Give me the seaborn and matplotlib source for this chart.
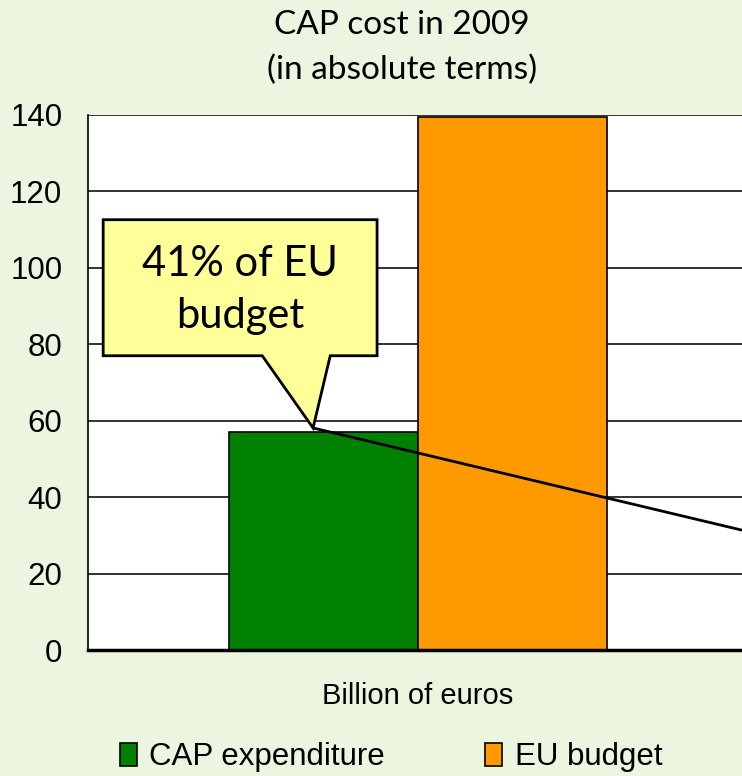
import pandas as pd
import matplotlib.pyplot as plt
import matplotlib.patches as mpatches
import seaborn as sns

# data
category = ["Billion of euros"]
series = ["CAP expenditure", "EU budget"]
values = [57, 139.5]
colors = ["#008000", "#FF9900"]
y_ticks = [0, 20, 40, 60, 80, 100, 120, 140]

df = pd.DataFrame({"cat": category * len(series), "series": series, "value": values})

sns.set_style("white")
plt.rcParams['font.family'] = ['Liberation Sans', 'DejaVu Sans']
plt.rcParams['text.color'] = 'black'
plt.rcParams['xtick.color'] = 'black'
plt.rcParams['ytick.color'] = 'black'

fig = plt.figure(figsize=(7.42, 7.76), dpi=100)
fig.patch.set_facecolor("#EBF5E0")
ax = fig.add_axes([88 / 742, 126 / 776, 660 / 742, 535 / 776])
ax.set_facecolor("white")

sns.barplot(data=df, x="cat", y="value", hue="series", palette=colors, saturation=1,
            width=0.573, gap=0, edgecolor="black", linewidth=1.2, ax=ax, legend=False)

ax.set_ylim(0, 140)
ax.set_xlim(-0.5, 0.5)
ax.set_yticks(y_ticks)
ax.yaxis.grid(True, color="#222222", linewidth=1.3)
ax.set_axisbelow(True)
ax.tick_params(axis="y", length=0, labelsize=22.5, pad=18.5)
ax.tick_params(axis="x", length=0, labelsize=21, pad=23)
ax.set_xticks([-0.5], minor=True)
ax.tick_params(axis="x", which="minor", length=9, width=1.2, direction="out")
ax.set_xlabel("")
ax.set_ylabel("")
for s in ["top", "right"]:
    ax.spines[s].set_visible(False)
ax.spines["left"].set_color("black")
ax.spines["left"].set_linewidth(1.2)
ax.spines["bottom"].set_color("black")
ax.spines["bottom"].set_linewidth(2.5)

# callout pointer line
tip = (-0.159, 58.1)
ax.plot([tip[0], 0.49], [tip[1], 31.4], color="black", linewidth=2, zorder=5, clip_on=False)

# callout box with pointer
x0, x1, yb, yt = -0.477, -0.062, 77.0, 112.6
poly = [(x0, yt), (x1, yt), (x1, yb), (-0.133, yb), tip, (-0.236, yb), (x0, yb)]
ax.add_patch(mpatches.Polygon(poly, closed=True, facecolor="#FFFF99",
                              edgecolor="black", linewidth=2, zorder=6))
ax.text((x0 + x1) / 2, (yb + yt) / 2 - 0.6, "41% of EU\nbudget", ha="center", va="center",
        fontsize=30, family=["Lato", "DejaVu Sans"], linespacing=1.45, zorder=7)

fig.text(402 / 742, 1 - 48 / 776, "CAP cost in 2009\n(in absolute terms)", ha="center",
         va="center", fontsize=24, family=["Lato", "DejaVu Sans"], linespacing=1.6)

handles = [mpatches.Patch(facecolor=c, edgecolor="black", linewidth=1.2, label=s)
           for s, c in zip(series, colors)]
fig.legend(handles=handles, loc="center", bbox_to_anchor=(391 / 742, 1 - 757 / 776),
           ncol=2, frameon=False, fontsize=22.5, handlelength=0.55, handleheight=0.75,
           handletextpad=0.4, columnspacing=3.2, borderpad=0, borderaxespad=0)

plt.savefig("out.png", dpi=100, facecolor=fig.get_facecolor())
